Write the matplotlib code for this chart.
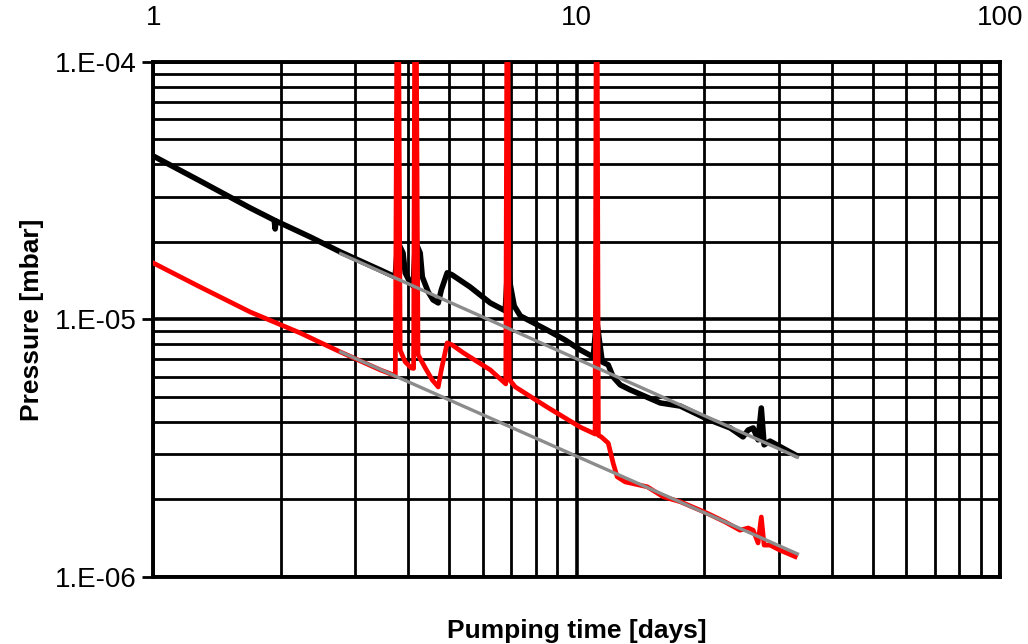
import matplotlib
matplotlib.use("Agg")
from matplotlib import pyplot as plt
from matplotlib.ticker import LogLocator, NullFormatter

# pumping time [days] and pressure [mbar], upper (black) gauge
black_t = [1.0, 1.29, 1.694, 1.931, 1.941, 1.951, 2.349, 2.765, 3.436, 3.728,
           3.78, 3.89, 3.936, 4.045, 4.11, 4.16, 4.27, 4.32, 4.46, 4.58, 4.71,
           4.79, 4.945, 5.08, 5.60, 6.25, 6.78, 6.87, 6.97, 7.12, 7.36, 8.51,
           9.39, 10.19, 10.94, 11.14, 11.49, 11.87, 12.19, 12.67, 13.37, 15.75,
           17.56, 20.3, 23.04, 24.7, 25.4, 26.1, 26.8, 27.28, 27.7, 28.6, 32.8]
black_p = [4.31e-5, 3.45e-5, 2.71e-5, 2.43e-5, 2.245e-5, 2.41e-5, 2.09e-5, 1.829e-5,
           1.556e-5, 1.462e-5, 2.0e-5, 1.81e-5, 1.517e-5, 1.387e-5, 1.349e-5, 2.0e-5,
           1.81e-5, 1.462e-5, 1.279e-5, 1.191e-5, 1.159e-5, 1.302e-5, 1.517e-5,
           1.489e-5, 1.337e-5, 1.159e-5, 1.08e-5, 1.6e-5, 1.361e-5, 1.128e-5,
           1.032e-5, 9.10e-6, 8.32e-6, 7.62e-6, 7.15e-6, 1.0e-5, 6.84e-6, 6.66e-6,
           5.98e-6, 5.57e-6, 5.33e-6, 4.74e-6, 4.61e-6, 4.11e-6, 3.79e-6, 3.50e-6,
           3.72e-6, 3.79e-6, 3.41e-6, 4.53e-6, 3.26e-6, 3.37e-6, 2.98e-6]

# lower (red) gauge; each venting spike runs off the top of the scale
red_t = [1.0, 1.29, 1.694, 2.224, 2.765, 3.436, 3.73, 3.77, 3.79, 3.83, 3.936,
         4.068, 4.12, 4.15, 4.17, 4.22, 4.39, 4.56, 4.71, 4.79, 4.945, 5.08, 5.40,
         6.25, 6.80, 6.85, 6.87, 6.93, 7.16, 8.51, 10.19, 11.05, 11.13, 11.16,
         11.25, 11.43, 11.87, 12.19, 12.46, 13.02, 14.68, 16.0, 17.56, 20.3, 22.43,
         24.3, 25.4, 26.1, 26.8, 27.28, 27.7, 28.6, 30.24, 32.8]
red_p = [1.657e-5, 1.337e-5, 1.069e-5, 8.86e-6, 7.48e-6, 6.37e-6, 6.05e-6, 3e-4,
         3e-4, 7.6e-6, 6.84e-6, 6.48e-6, 6.45e-6, 3e-4, 3e-4, 7.3e-6, 6.48e-6,
         5.82e-6, 5.47e-6, 6.37e-6, 8.11e-6, 7.96e-6, 7.42e-6, 6.37e-6, 5.62e-6,
         3e-4, 3e-4, 5.85e-6, 5.47e-6, 4.57e-6, 3.82e-6, 3.59e-6, 3e-4, 3e-4,
         3.55e-6, 3.50e-6, 3.31e-6, 2.77e-6, 2.45e-6, 2.34e-6, 2.24e-6, 2.05e-6,
         1.96e-6, 1.77e-6, 1.635e-6, 1.52e-6, 1.55e-6, 1.52e-6, 1.356e-6, 1.71e-6,
         1.33e-6, 1.33e-6, 1.27e-6, 1.20e-6]

# power-law fits (straight lines in log-log)
fit_t = [2.77, 33.2]
black_fit = [1.80e-5, 2.92e-6]
red_fit = [7.48e-6, 1.23e-6]

plt.rcParams['font.family'] = ['Liberation Sans', 'DejaVu Sans']

fig = plt.figure(figsize=(10.28, 6.44), dpi=100)
ax = fig.add_axes([0.149, 0.104, 0.824, 0.800])

ax.plot(black_t, black_p, color='black', lw=4.0, zorder=3, solid_joinstyle='round')
ax.plot(red_t, red_p, color='#ff0000', lw=3.4, zorder=4, solid_joinstyle='round')
ax.plot(fit_t, black_fit, color='#8c8c8c', lw=2.4, zorder=5)
ax.plot(fit_t, red_fit, color='#8c8c8c', lw=2.4, zorder=5)

ax.set_xscale('log')
ax.set_yscale('log')
ax.set_xlim(1, 100)
ax.set_ylim(1e-6, 1e-4)

ax.xaxis.tick_top()
ax.set_xticks([1, 10, 100])
ax.set_xticklabels(['1', '10', '100'])
ax.xaxis.set_minor_locator(LogLocator(base=10, subs=range(2, 10)))
ax.xaxis.set_minor_formatter(NullFormatter())
ax.tick_params(axis='x', which='both', length=0, pad=22, labelsize=20)

ax.set_yticks([1e-6, 1e-5, 1e-4])
ax.set_yticklabels(['1.E-06', '1.E-05', '1.E-04'])
ax.yaxis.set_minor_locator(LogLocator(base=10, subs=range(2, 10)))
ax.yaxis.set_minor_formatter(NullFormatter())
ax.tick_params(axis='y', which='major', length=8, width=2, pad=4, labelsize=20)
ax.tick_params(axis='y', which='minor', length=0)

ax.grid(True, which='major', color='black', lw=2.6, zorder=1)
ax.grid(True, which='minor', color='black', lw=2.0, zorder=1)
ax.set_axisbelow(True)
for s in ax.spines.values():
    s.set_linewidth(2.8)

ax.xaxis.set_label_position('bottom')
ax.set_xlabel('Pumping time [days]', fontsize=19, fontweight='bold', labelpad=30)
ax.set_ylabel('Pressure [mbar]', fontsize=19, fontweight='bold', labelpad=8)

plt.savefig('out.png', dpi=100)
